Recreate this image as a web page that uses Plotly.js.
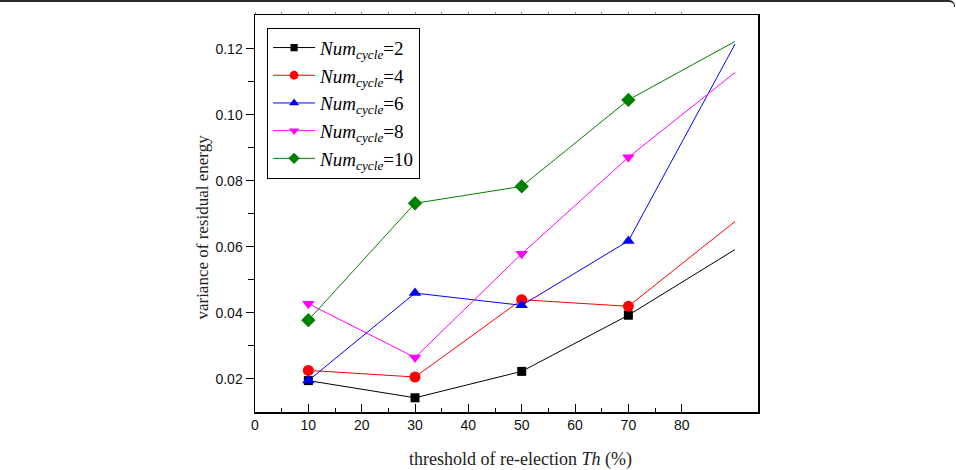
<!DOCTYPE html>
<html>
<head>
<meta charset="utf-8">
<script src="https://cdn.plot.ly/plotly-3.0.1.min.js"></script>
<style>
  html, body { margin: 0; padding: 0; background: #fff; }
  #wrap { position: relative; width: 956px; height: 470px; overflow: hidden; }
  #chart { width: 956px; height: 470px; }
  #frame { position: absolute; left: 0; top: 0; width: 954px; height: 5px;
           border-top: 2px solid #2a2a2a; border-right: 1px solid #2a2a2a;
           border-top-right-radius: 6px; pointer-events: none; }
</style>
</head>
<body>
<div id="wrap">
  <div id="chart"></div>
  <div id="frame"></div>
</div>
<script>
// Re-election threshold Th (%)
const thresholds = [10, 30, 50, 70, 90];

// Variance of residual energy for each cycle count
const numCycle2  = [0.0195, 0.0143, 0.0223, 0.0393, 0.0592];
const numCycle4  = [0.0226, 0.0206, 0.0440, 0.0420, 0.0677];
const numCycle6  = [0.0195, 0.0460, 0.0423, 0.0618, 0.1214];
const numCycle8  = [0.0428, 0.0265, 0.0579, 0.0871, 0.1128];
const numCycle10 = [0.0378, 0.0732, 0.0783, 0.1045, 0.1222];

const seriesNames = ['2', '4', '6', '8', '10'];

// Axis tick labels
const xTickVals = [0, 10, 20, 30, 40, 50, 60, 70, 80];
const yTickVals = [0.02, 0.04, 0.06, 0.08, 0.10, 0.12];
const yTickText = ['0.02', '0.04', '0.06', '0.08', '0.10', '0.12'];

const seriesValues = [numCycle2, numCycle4, numCycle6, numCycle8, numCycle10];
const colors  = ['#000000', '#ff0000', '#0000ff', '#ff00ff', '#008000'];
const symbols = ['square', 'circle', 'triangle-up', 'triangle-down', 'diamond'];
const sizes   = [9, 11, 11, 11, 11];

const traces = seriesValues.map((vals, k) => ({
  x: thresholds,
  y: vals,
  type: 'scatter',
  mode: 'lines+markers',
  name: '<i>Num</i><sub><i>cycle</i></sub>=' + seriesNames[k],
  line: { color: colors[k], width: 1 },
  marker: {
    symbol: symbols[k],
    color: colors[k],
    opacity: 1,
    // last point of each curve is drawn without a marker
    size: thresholds.map((_, i) => (i < thresholds.length - 1 ? sizes[k] : 0)),
    line: { width: 0 }
  },
  cliponaxis: false
}));

// empty trace that carries the faint tick marks along the top edge
traces.push({
  x: [], y: [], type: 'scatter', mode: 'markers',
  xaxis: 'x2', yaxis: 'y', showlegend: false, hoverinfo: 'skip'
});

const serif = 'Liberation Serif, Times New Roman, serif';
const sans = 'Liberation Sans, Arial, sans-serif';

const layout = {
  width: 956,
  height: 470,
  margin: { l: 255, r: 198, t: 15, b: 58, pad: 0 },
  paper_bgcolor: '#ffffff',
  plot_bgcolor: '#ffffff',
  showlegend: true,
  legend: {
    x: 0.024, y: 0.968, xanchor: 'left', yanchor: 'top',
    bgcolor: '#ffffff',
    bordercolor: '#000000',
    borderwidth: 1,
    font: { family: serif, size: 19, color: '#000' },
    tracegroupgap: 0,
    itemwidth: 42
  },
  xaxis: {
    range: [0, 94.3],
    tickvals: xTickVals,
    ticktext: xTickVals.map(String),
    ticks: 'inside',
    ticklen: 8,
    tickwidth: 1,
    tickcolor: '#000',
    minor: { tickvals: [5, 15, 25, 35, 45, 55, 65, 75], ticks: 'inside', ticklen: 4, tickwidth: 1, tickcolor: '#000' },
    showline: true,
    linecolor: '#000',
    linewidth: 1.5,
    mirror: true,
    showgrid: false,
    zeroline: false,
    tickfont: { family: sans, size: 14, color: '#111' },
    fixedrange: true
  },
  xaxis2: {
    overlaying: 'x',
    side: 'top',
    anchor: 'y',
    range: [0, 94.3],
    tickvals: [0, 5, 10, 15, 20, 25, 30, 35, 40, 45, 50, 55, 60, 65, 70, 75, 80],
    ticks: 'outside',
    ticklen: 2,
    tickwidth: 1,
    tickcolor: '#888',
    showticklabels: false,
    showline: false,
    showgrid: false,
    zeroline: false,
    fixedrange: true
  },
  yaxis: {
    range: [0.01, 0.1302],
    tickvals: yTickVals,
    ticktext: yTickText,
    ticks: 'outside',
    ticklen: 8,
    tickwidth: 1,
    tickcolor: '#000',
    minor: { tickvals: [0.03, 0.05, 0.07, 0.09, 0.11], ticks: 'outside', ticklen: 6, tickwidth: 1, tickcolor: '#000' },
    showline: true,
    linecolor: '#000',
    linewidth: 1.5,
    mirror: true,
    showgrid: false,
    zeroline: false,
    tickfont: { family: sans, size: 14, color: '#111' },
    fixedrange: true
  },
  annotations: [
    {
      text: 'variance of residual energy',
      xref: 'paper', yref: 'paper',
      x: -0.105, y: 0.465,
      xanchor: 'center', yanchor: 'middle',
      textangle: -90,
      showarrow: false,
      font: { family: serif, size: 17, color: '#222' }
    },
    {
      text: 'threshold of re-election <i>Th</i> (%)',
      xref: 'paper', yref: 'paper',
      x: 0.527, y: -0.119,
      xanchor: 'center', yanchor: 'middle',
      showarrow: false,
      font: { family: serif, size: 18, color: '#222' }
    }
  ]
};

Plotly.newPlot('chart', traces, layout, { displayModeBar: false, staticPlot: true });
</script>
</body>
</html>
